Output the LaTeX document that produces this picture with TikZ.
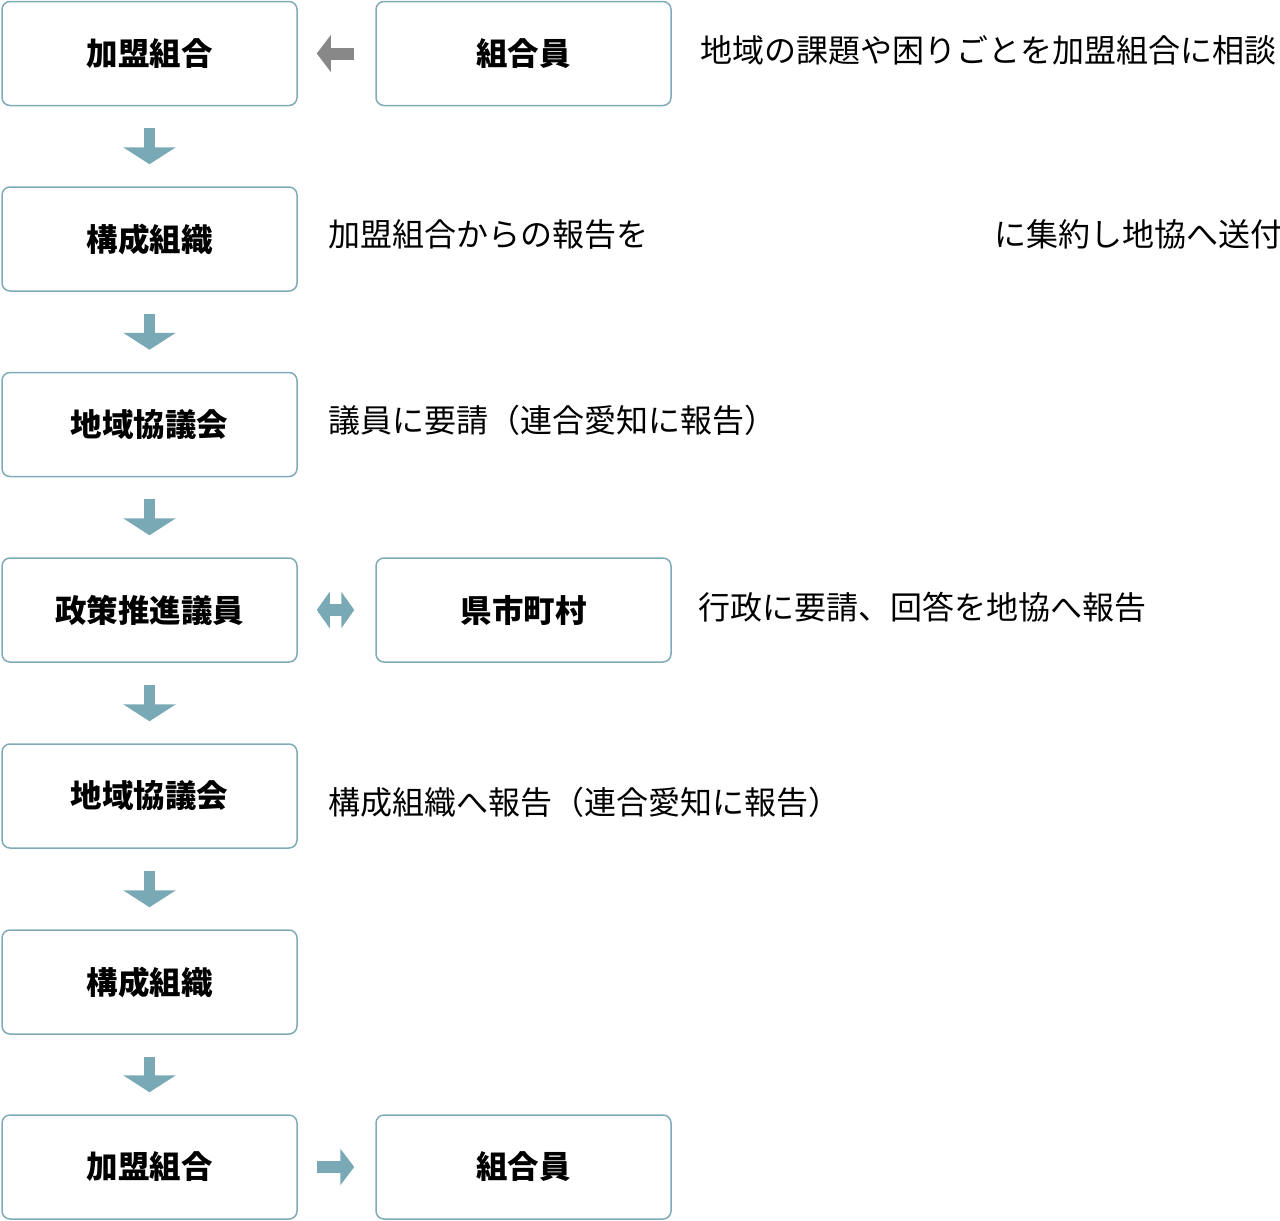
\documentclass[tikz,border=0pt]{standalone}
\usepackage{fontspec}
\setmainfont{Noto Sans CJK JP}
\usetikzlibrary{arrows.meta}
\definecolor{boxline}{HTML}{80ABB8}
\definecolor{arrteal}{HTML}{7AA9B6}
\definecolor{arrgray}{HTML}{888888}
\tikzset{
  box/.style={draw=boxline, line width=1.5pt, rounded corners=8pt, fill=white,
    minimum width=295pt, minimum height=104pt, inner sep=0pt,
    font=\fontsize{31.5}{31.5}\selectfont\bfseries},
  note/.style={anchor=west, inner sep=0pt, font=\fontsize{32}{32}\selectfont},
  downarr/.style={draw=arrteal, line width=11pt,
    -{Triangle[width=52pt,length=17pt]}, shorten <=22pt, shorten >=22pt},
  sidearr/.style={line width=12pt, shorten <=20pt, shorten >=19pt},
}
\begin{document}
\begin{tikzpicture}[x=1pt,y=-1pt]
\useasboundingbox (0,0) rectangle (1280,1221);
% left column
\node[box] (b1) at (149.5,53.5) {加盟組合};
\node[box] (b2) at (149.5,239) {構成組織};
\node[box] (b3) at (149.5,424.5) {地域協議会};
\node[box] (b4) at (149.5,610) {政策推進議員};
\node[box] (b5) at (149.5,796) {地域協議会};
\node[box] (b6) at (149.5,982) {構成組織};
\node[box] (b7) at (149.5,1167) {加盟組合};
% right column
\node[box] (r1) at (523.5,53.5) {組合員};
\node[box] (r4) at (523.5,610) {県市町村};
\node[box] (r7) at (523.5,1167) {組合員};
% down arrows
\draw[downarr] (b1.south) -- (b2.north);
\draw[downarr] (b2.south) -- (b3.north);
\draw[downarr] (b3.south) -- (b4.north);
\draw[downarr] (b4.south) -- (b5.north);
\draw[downarr] (b5.south) -- (b6.north);
\draw[downarr] (b6.south) -- (b7.north);
% side arrows
\draw[sidearr, draw=arrgray, -{Triangle[width=36pt,length=14pt]}, shorten <=21pt, shorten >=19pt] (r1.west) -- (b1.east);
\draw[sidearr, draw=arrteal, {Triangle[width=36pt,length=13pt]}-{Triangle[width=36pt,length=13pt]}, shorten <=19pt, shorten >=21pt] (b4.east) -- (r4.west);
\draw[sidearr, draw=arrteal, -{Triangle[width=36pt,length=14pt]}, shorten <=19pt, shorten >=21pt] (b7.east) -- (r7.west);
% notes
\node[note] (t1) at (700,50) {地域の課題や困りごとを加盟組合に相談};
\node[note] (t2a) at (328,234) {加盟組合からの報告を};
\node[note] (t2b) at (994,234) {に集約し地協へ送付};
\node[note] (t3) at (328,420) {議員に要請（連合愛知に報告）};
\node[note] (t4) at (698,607) {行政に要請、回答を地協へ報告};
\node[note] (t5) at (328,802) {構成組織へ報告（連合愛知に報告）};
\end{tikzpicture}
\end{document}
